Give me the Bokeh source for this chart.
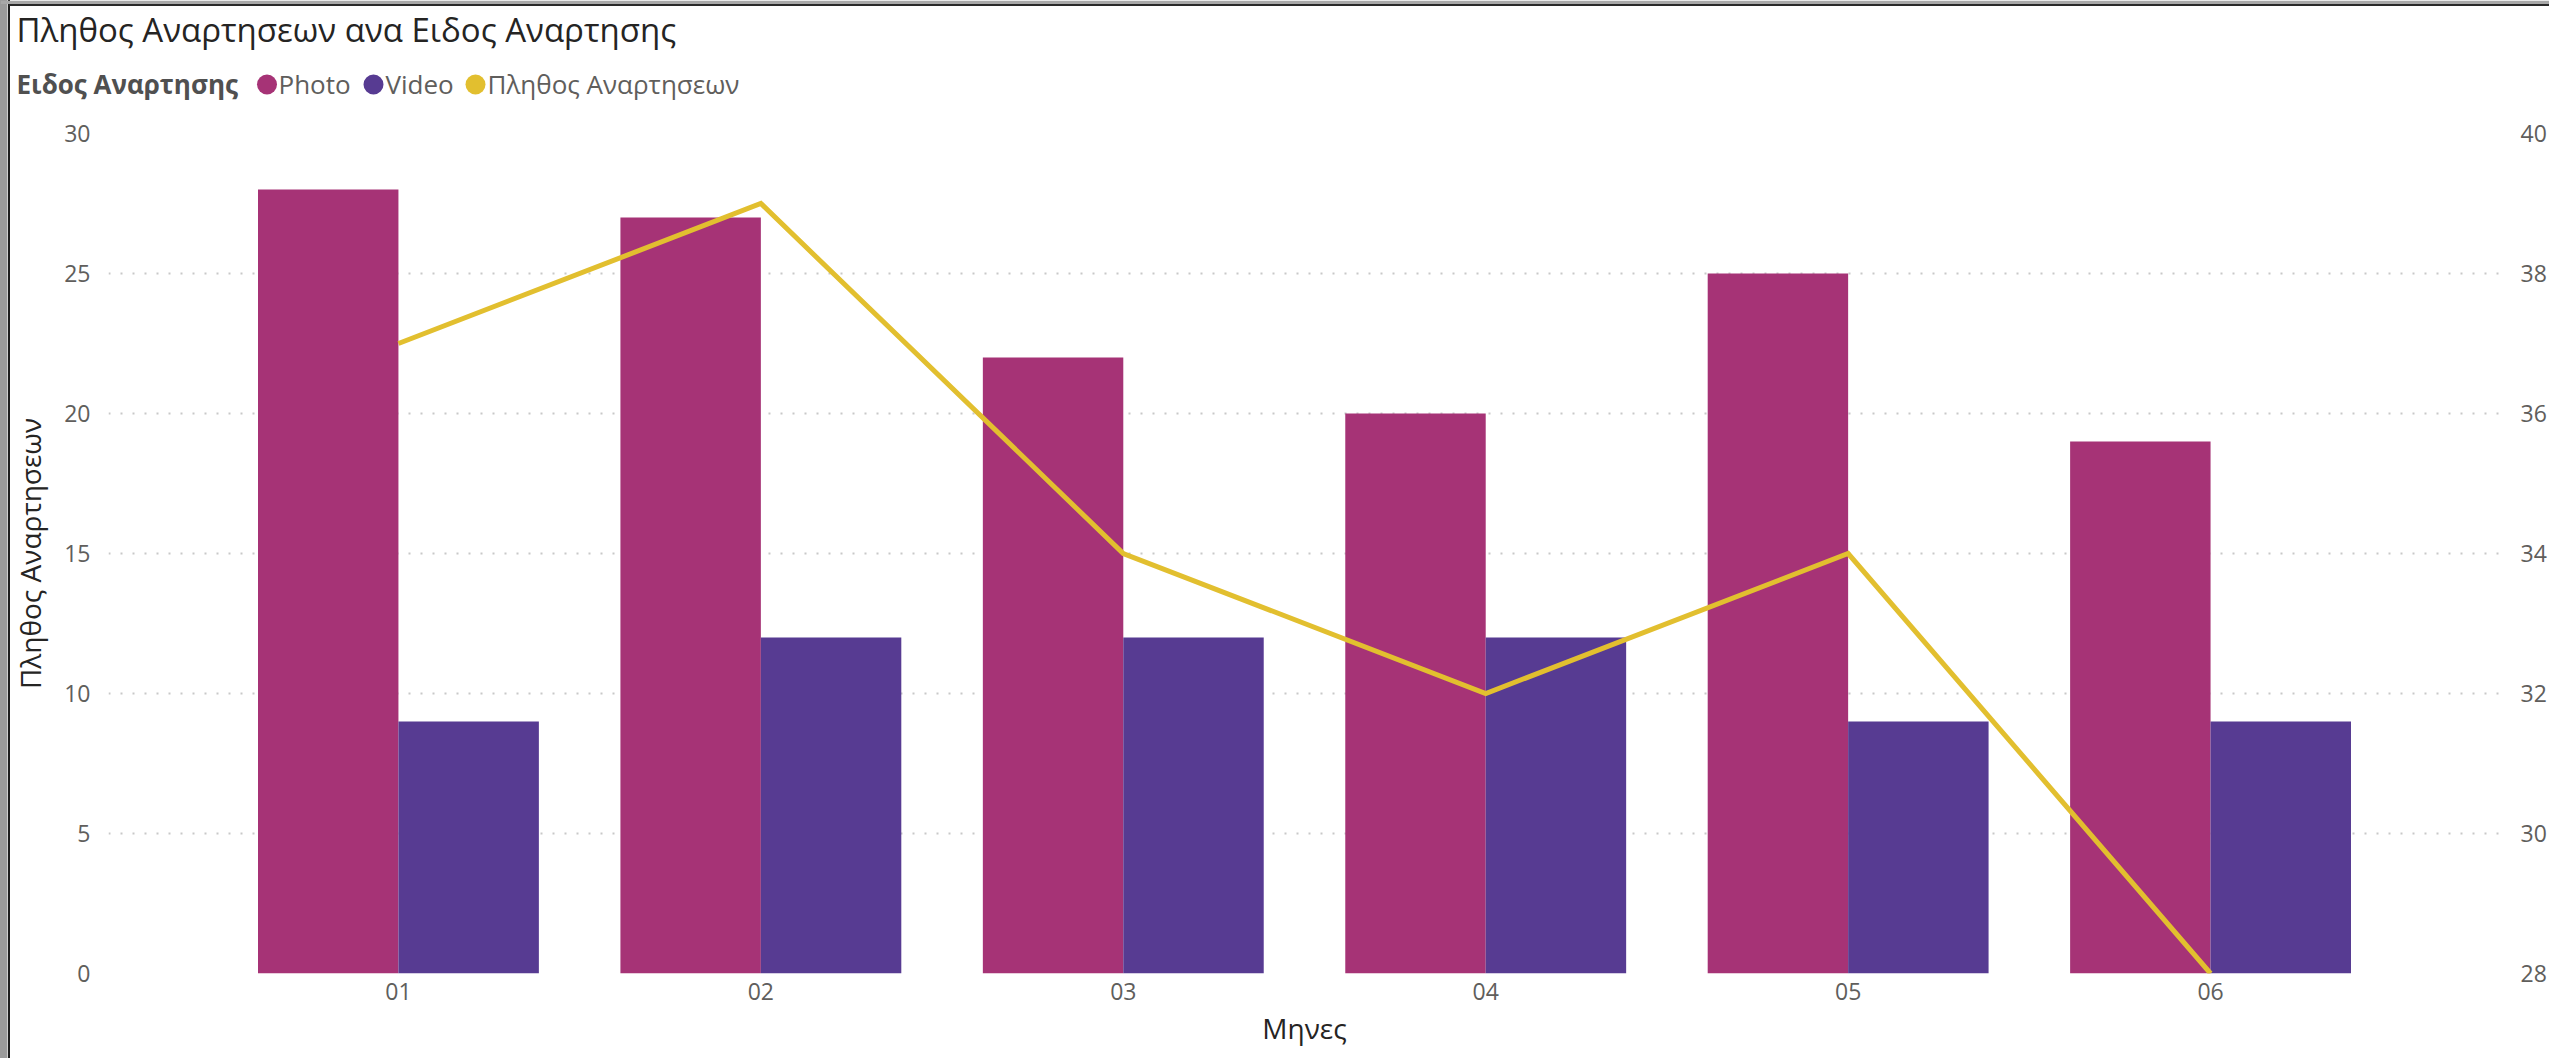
from bokeh.plotting import figure
from bokeh.layouts import column, row
from bokeh.models import (ColumnDataSource, FactorRange, Range1d, LinearAxis,
                          FixedTicker)
from bokeh.transform import dodge
from bokeh.core.properties import value
from bokeh.embed import file_html
from bokeh.resources import INLINE

# Monthly post counts by post type
months = ["01", "02", "03", "04", "05", "06"]
photo_posts = [28, 27, 22, 20, 25, 19]
video_posts = [9, 12, 12, 12, 9, 9]
total_posts = [37, 39, 34, 32, 34, 28]

left_ticks = [0, 5, 10, 15, 20, 25, 30]
right_ticks = [28, 30, 32, 34, 36, 38, 40]

chart_title = "Πληθος Αναρτησεων ανα Ειδος Αναρτησης"
legend_title = "Ειδος Αναρτησης"
series_names = ["Photo", "Video", "Πληθος Αναρτησεων"]
y_title = "Πληθος Αναρτησεων"
x_title = "Μηνες"

PHOTO = "#A63376"
VIDEO = "#573B92"
TOTAL = "#E2BF2F"
FONT = "Open Sans"
DARK = "#252423"
GREY = "#605E5C"

# page geometry (pixels)
W, H = 2549, 1058
HEADER_H = 100         # title + legend band
FRAME_L, FRAME_R, FRAME_T, FRAME_B = 108, 2503, 133, 973

# legend layout (pixels in the header)
LEGEND_Y = 83
LEGEND_DOT_X = [266.5, 373, 475]
LEGEND_TXT_X = [278, 385, 487]

# container edge drawn behind both parts of the layout
EDGE_CSS = ("linear-gradient(to right, #9B9B9B 0px, #9B9B9B 7px, #CFCFCF 7px, "
            "#CFCFCF 8px, #FFFFFF 8px, #FFFFFF 8.5px, #1E1E1E 8.5px, "
            "#1E1E1E 10.5px, #FFFFFF 10.5px, #FFFFFF 100%)")

# ---- header: top edge, title and legend ----
head = figure(width=W, height=HEADER_H, x_range=Range1d(0, W),
              y_range=Range1d(HEADER_H, 0),
              output_backend="svg", toolbar_location=None,
              min_border=0, outline_line_color=None,
              background_fill_color=None, border_fill_color=None)
head.axis.visible = False
head.grid.visible = False

head.quad(left=[0, 8.5], right=[W, W], top=[0, 3.5], bottom=[3.5, 5.5],
          fill_color=["#A8A8A8", "#2A2A2A"], line_color=None)
head.text(x=[16], y=[29], text=[chart_title], text_font=value(FONT),
          text_font_size="33px", text_color=DARK, text_baseline="middle",
          text_align="left")
head.text(x=[16], y=[LEGEND_Y], text=[legend_title], text_font=value(FONT),
          text_font_size="26px", text_font_style="bold", text_color="#505050",
          text_baseline="middle", text_align="left")
head.scatter(x=LEGEND_DOT_X, y=[LEGEND_Y + 1] * 3, size=20, marker="circle",
             fill_color=[PHOTO, VIDEO, TOTAL], line_color=None)
head.text(x=LEGEND_TXT_X, y=[LEGEND_Y] * 3, text=series_names,
          text_font=value(FONT), text_font_size="26px", text_color=GREY,
          text_baseline="middle", text_align="left")

# ---- main chart ----
MAIN_H = H - HEADER_H
src = ColumnDataSource(dict(month=months, photo=photo_posts,
                            video=video_posts, total=total_posts))

p = figure(width=W, height=MAIN_H,
           x_range=FactorRange(factors=months, range_padding=0.1),
           y_range=Range1d(0, 30),
           output_backend="svg", toolbar_location=None,
           min_border_left=FRAME_L, min_border_right=W - FRAME_R,
           min_border_top=FRAME_T - HEADER_H, min_border_bottom=H - FRAME_B,
           outline_line_color=None,
           background_fill_color="white", border_fill_color=None)

p.extra_y_ranges = {"total": Range1d(28, 40)}

bar_w = 0.3875
p.vbar(x=dodge("month", -bar_w / 2, range=p.x_range), top="photo",
       width=bar_w, source=src, fill_color=PHOTO, line_color=None)
p.vbar(x=dodge("month", bar_w / 2, range=p.x_range), top="video",
       width=bar_w, source=src, fill_color=VIDEO, line_color=None)
p.line(x="month", y="total", y_range_name="total", source=src,
       line_color=TOTAL, line_width=5, line_join="miter")

right_axis = LinearAxis(y_range_name="total")
p.add_layout(right_axis, "right")

p.yaxis[0].ticker = FixedTicker(ticks=left_ticks)
right_axis.ticker = FixedTicker(ticks=right_ticks)

for ax in [p.xaxis[0], p.yaxis[0], right_axis]:
    ax.axis_line_color = None
    ax.major_tick_line_color = None
    ax.minor_tick_line_color = None
    ax.major_tick_out = 0
    ax.major_tick_in = 0
    ax.minor_tick_out = 0
    ax.major_label_text_font = FONT
    ax.major_label_text_font_size = "23px"
    ax.major_label_text_color = GREY
    ax.axis_label_text_font = FONT
    ax.axis_label_text_font_size = "28px"
    ax.axis_label_text_font_style = "normal"
    ax.axis_label_text_color = DARK

p.yaxis[0].axis_label = y_title
p.yaxis[0].major_label_standoff = 18
p.yaxis[0].axis_label_standoff = 12
right_axis.major_label_standoff = 20
p.xaxis[0].axis_label = x_title
p.xaxis[0].major_label_standoff = 9
p.xaxis[0].axis_label_standoff = 6

p.xgrid.grid_line_color = None
p.ygrid.grid_line_color = "#C8C8C8"
p.ygrid.grid_line_width = 2
p.ygrid.grid_line_dash = "2 10"

# the chart sits in its own row so the header keeps its full-width frame
layout = column(head, row(p, spacing=0), spacing=0,
                styles={"background": EDGE_CSS})

open("out.html", "w").write(file_html(layout, INLINE))
